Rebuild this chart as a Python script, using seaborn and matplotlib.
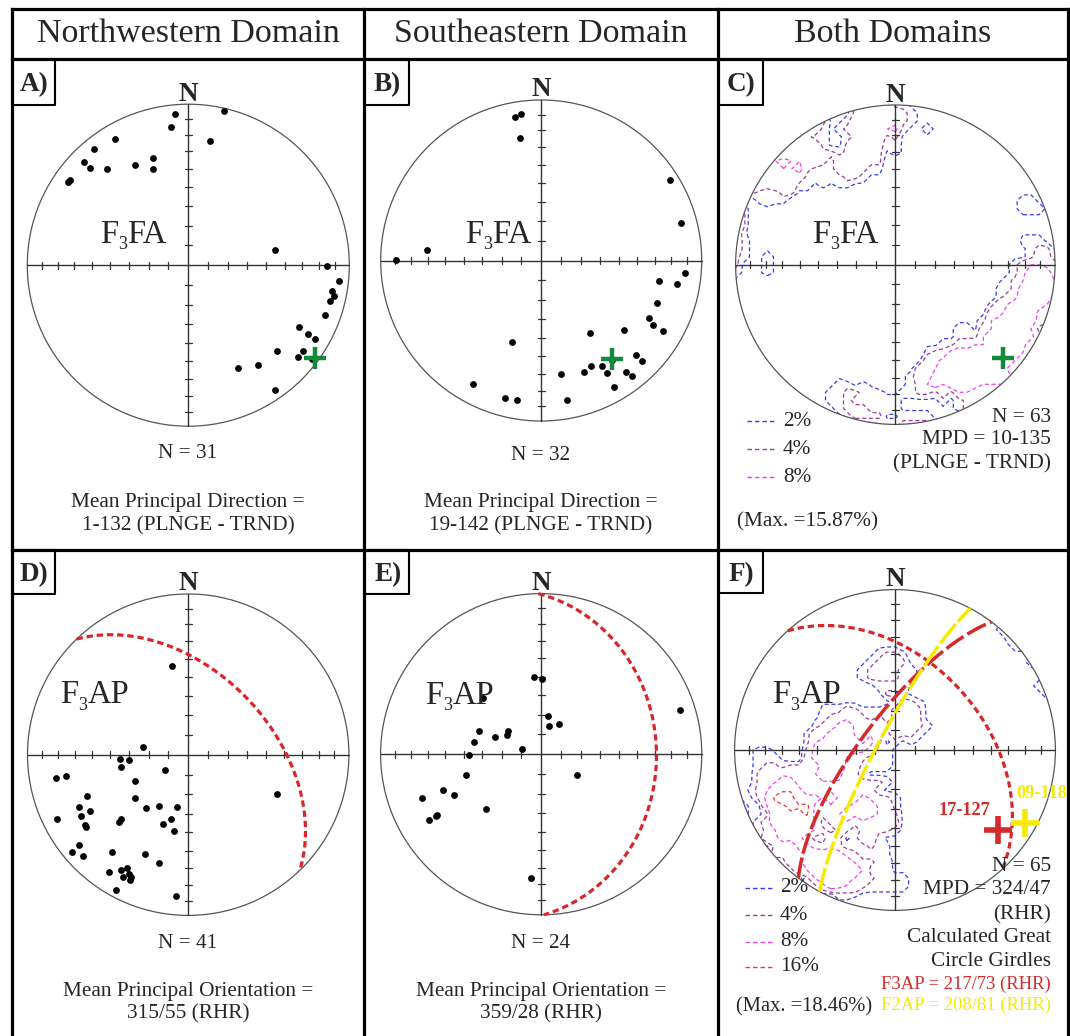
import numpy as np
import matplotlib
matplotlib.use("Agg")
import matplotlib.pyplot as plt
import seaborn as sns
from matplotlib.patches import Circle
from matplotlib.lines import Line2D

# ---------------- data (equal-area net coordinates, unit radius) ----------------
a_east = [-0.746, -0.734, -0.645, -0.587, -0.611, -0.456, -0.504, -0.334, -0.222, -0.222,
          -0.108, -0.085, 0.220, 0.135, 0.541, 0.860, 0.939, 0.893, 0.906, 0.881,
          0.852, 0.690, 0.746, 0.785, 0.551, 0.711, 0.680, 0.431, 0.307, 0.539, 0.767]
a_north = [0.518, 0.531, 0.642, 0.719, 0.604, 0.784, 0.595, 0.621, 0.668, 0.600,
           0.861, 0.940, 0.955, 0.769, 0.092, -0.002, -0.101, -0.161, -0.193, -0.221,
           -0.310, -0.383, -0.430, -0.456, -0.535, -0.535, -0.572, -0.621, -0.636, -0.773, -0.582]

b_east = [-0.161, -0.126, -0.132, 0.803, 0.869, -0.713, -0.907, 0.898, 0.736, 0.848,
          0.724, 0.670, 0.695, 0.761, 0.518, 0.302, -0.184, 0.589, 0.628, 0.308,
          0.265, 0.381, 0.408, 0.526, 0.566, 0.456, 0.126, 0.159, -0.427, -0.225,
          -0.148, 0.443]
b_north = [0.897, 0.915, 0.761, 0.501, 0.234, 0.065, 0.001, -0.078, -0.130, -0.148,
           -0.263, -0.358, -0.402, -0.437, -0.433, -0.449, -0.510, -0.589, -0.628, -0.657,
           -0.692, -0.657, -0.700, -0.696, -0.721, -0.787, -0.709, -0.867, -0.767, -0.859,
           -0.869, -0.617]

d_east = [-0.101, -0.279, -0.424, -0.368, -0.420, -0.146, -0.822, -0.760, -0.331, -0.628,
          -0.329, -0.677, -0.613, -0.669, -0.265, -0.184, -0.067, -0.818, -0.644, -0.636,
          -0.428, -0.107, -0.157, -0.086, -0.677, -0.725, -0.652, -0.474, -0.267, -0.179,
          -0.495, -0.418, -0.378, -0.404, -0.366, -0.364, -0.451, -0.076, 0.553, -0.420,
          -0.358]
d_north = [0.554, 0.050, -0.029, -0.033, -0.075, -0.095, -0.143, -0.133, -0.162, -0.255,
           -0.272, -0.328, -0.353, -0.382, -0.334, -0.317, -0.324, -0.398, -0.438, -0.448,
           -0.419, -0.400, -0.434, -0.477, -0.564, -0.608, -0.631, -0.608, -0.620, -0.672,
           -0.728, -0.720, -0.707, -0.759, -0.743, -0.780, -0.842, -0.878, -0.247, -0.402,
           -0.763]

e_east = [-0.045, 0.003, -0.364, 0.045, 0.051, 0.113, 0.864, -0.385, -0.206, -0.213,
          -0.287, -0.416, -0.117, -0.447, -0.466, 0.223, -0.611, -0.540, -0.740, -0.343,
          -0.655, -0.700, -0.063, -0.646]
e_north = [0.481, 0.471, 0.349, 0.239, 0.174, 0.191, 0.278, 0.147, 0.147, 0.120,
           0.104, 0.073, 0.031, -0.004, -0.129, -0.131, -0.224, -0.255, -0.270, -0.344,
           -0.384, -0.409, -0.770, -0.380]

# mean principal directions (net coordinates)
mean_a = (0.788, -0.578)
mean_b = (0.443, -0.614)
mean_c = (0.676, -0.587)
mean_f3 = (0.643, -0.498)
mean_f2 = (0.809, -0.452)

# great circles as (strike, dip) right-hand rule
girdle_d = (316, 48)
girdle_e = (359, 29)
girdle_f_mean = (318, 44)
girdle_f3ap = (217, 73)
girdle_f2ap = (208, 81)

tick_plunges = [10, 20, 30, 40, 50, 60, 70, 80]
levels_c = [2, 4, 8]
levels_f = [2, 4, 8, 16]
level_labels_c = ["2%", "4%", "8%"]
level_labels_f = ["2%", "4%", "8%", "16%"]
counting_area = 0.0225   # fraction of the hemisphere covered by the counting circle

headers = ["Northwestern Domain", "Southeastern Domain", "Both Domains"]

# ---------------- style ----------------
sns.set_theme(style="white")
plt.rcParams["font.family"] = ["Liberation Serif", "DejaVu Serif"]

W, H = 1070, 1036
fig = plt.figure(figsize=(W / 100, H / 100), dpi=100)
fig.patch.set_facecolor("white")


def fx(x):
    return x / W


def fy(y):
    return 1 - y / H


LEVEL_COLORS = ["#3a3af2", "#9a3a9a", "#f040f0", "#f03838"]
RED = "#d9262b"
YEL = "#f5ea00"
GREEN = "#118a3c"
DASH = (0, (3.2, 2.2))


def make_ax(cx, cy, R):
    ax = fig.add_axes([fx(cx - R), fy(cy + R), 2 * R / W, 2 * R / H])
    ax.set_xlim(-1, 1)
    ax.set_ylim(-1, 1)
    ax.axis("off")
    return ax


def draw_net(ax):
    ax.add_patch(Circle((0, 0), 1, fill=False, ec="#555555", lw=0.9, clip_on=False, zorder=2))
    ax.plot([-1, 1], [0, 0], color="#333333", lw=1.0, clip_on=False, zorder=2)
    ax.plot([0, 0], [-1, 1], color="#333333", lw=1.0, clip_on=False, zorder=2)
    t = 0.022
    for p in tick_plunges:
        r = np.sqrt(2) * np.sin(np.radians((90 - p) / 2))
        for s in (-1, 1):
            ax.plot([s * r, s * r], [-t, t], color="#333333", lw=0.9, zorder=2)
            ax.plot([-t, t], [s * r, s * r], color="#333333", lw=0.9, zorder=2)


def to_vec(e, n):
    e = np.asarray(e, float)
    n = np.asarray(n, float)
    rr = np.hypot(e, n)
    rc = np.clip(rr, 0, 1)
    th = 2 * np.arcsin(rc / np.sqrt(2))
    safe = np.where(rr == 0, 1, rr)
    return np.stack([np.sin(th) * e / safe, np.sin(th) * n / safe, -np.cos(th)], axis=-1)


def draw_density(ax, east, north, levels):
    # percentage of points falling in a counting circle centred on each grid node
    g = np.linspace(-1.05, 1.05, 43)
    GX, GY = np.meshgrid(g, g)
    gv = to_vec(GX, GY)
    dv = to_vec(east, north)
    c = np.abs(gv @ dv.T)
    pct = (c >= 1 - counting_area).sum(-1) / len(east) * 100.0
    cs = ax.contour(GX, GY, pct, levels=levels, colors=LEVEL_COLORS[:len(levels)],
                    linewidths=0.9, zorder=1)
    cs.set_linestyle(DASH)
    cs.set_clip_path(Circle((0, 0), 1, transform=ax.transData))


def girdle(ax, plane, **kw):
    strike, dip = plane
    phi = np.radians(np.linspace(0, 180, 361))
    d = np.radians(dip)
    plunge = np.arcsin(np.sin(d) * np.sin(phi))
    trend = np.radians(strike) + np.arctan2(np.sin(phi) * np.cos(d), np.cos(phi))
    r = np.sqrt(2) * np.sin((np.pi / 2 - plunge) / 2)
    ax.plot(r * np.sin(trend), r * np.cos(trend), clip_on=False, zorder=4, **kw)


def dots(ax, east, north):
    sns.scatterplot(x=east, y=north, ax=ax, color="black", s=24, linewidth=0,
                    zorder=5, legend=False)


def cross(ax, pt, color, ms, mew):
    ax.plot([pt[0]], [pt[1]], marker="+", ms=ms, mew=mew, color=color, zorder=6,
            clip_on=False, linestyle="none")


# ---------------- panels ----------------
geo = {
    "A": (188.3, 265.2, 161.0),
    "B": (541.2, 260.5, 160.5),
    "C": (895.3, 264.7, 159.7),
    "D": (188.2, 754.7, 160.7),
    "E": (541.2, 754.2, 160.6),
    "F": (895.0, 750.0, 160.4),
}
axes = {k: make_ax(*v) for k, v in geo.items()}
for ax in axes.values():
    draw_net(ax)

dots(axes["A"], a_east, a_north)
cross(axes["A"], mean_a, GREEN, 16, 3.2)

dots(axes["B"], b_east, b_north)
cross(axes["B"], mean_b, GREEN, 16, 3.2)

draw_density(axes["C"], a_east + b_east, a_north + b_north, levels_c)
cross(axes["C"], mean_c, GREEN, 16, 3.2)

dots(axes["D"], d_east, d_north)
girdle(axes["D"], girdle_d, color=RED, lw=2.3, linestyle=(0, (2.0, 1.2)))

dots(axes["E"], e_east, e_north)
girdle(axes["E"], girdle_e, color=RED, lw=2.3, linestyle=(0, (2.0, 1.2)))

draw_density(axes["F"], d_east + e_east, d_north + e_north, levels_f)
girdle(axes["F"], girdle_f_mean, color=RED, lw=2.3, linestyle=(0, (2.0, 1.2)))
girdle(axes["F"], girdle_f3ap, color="#d42a2a", lw=2.5, linestyle=(0, (6.0, 1.3)))
girdle(axes["F"], girdle_f2ap, color=YEL, lw=2.5, linestyle=(0, (7.0, 1.0)))
cross(axes["F"], mean_f3, "#d42a2a", 20, 4.0)
cross(axes["F"], mean_f2, YEL, 20, 4.0)

# ---------------- frame ----------------
def fline(xs, ys, lw=2.3):
    fig.add_artist(Line2D([fx(x) for x in xs], [fy(y) for y in ys],
                          transform=fig.transFigure, color="black", lw=lw,
                          solid_capstyle="projecting"))


fline([11.5, 1068.3], [8.6, 8.6])
fline([11.5, 1068.3], [59.3, 59.3])
fline([11.5, 1068.3], [549.8, 549.8])
for x in (11.5, 364.3, 717.8, 1068.3):
    fline([x, x], [8.6, 1040])

boxes = {"A": (11.5, 59.3, 55, 104.5), "B": (364.3, 59.3, 409, 105), "C": (717.8, 59.3, 762.5, 105),
         "D": (11.5, 549.8, 55, 594), "E": (364.3, 549.8, 409, 594), "F": (717.8, 549.8, 762.7, 593)}
for k, (x0, y0, x1, y1) in boxes.items():
    fline([x0, x1, x1, x0], [y0, y0, y1, y1], lw=1.5)
    fig.text(fx((x0 + x1) / 2 + 1), fy(y0 + 31.5), k + ")", ha="center", va="baseline",
             fontsize=19.5, fontweight="bold")

for hx, htxt in zip([188, 541, 893], headers):
    fig.text(fx(hx), fy(34), htxt, ha="center", va="center", fontsize=24.5)

for k, (cx, cy, R) in geo.items():
    fig.text(fx(cx), fy(cy - R - 3.5), "N", ha="center", va="baseline",
             fontsize=19.5, fontweight="bold")


def fold_label(x, y, tail):
    big = 23.5
    fig.text(fx(x), fy(y), "F", fontsize=big, va="baseline")
    fig.text(fx(x + 18.0), fy(y + 6.5), "3", fontsize=13, va="baseline")
    fig.text(fx(x + 27.5), fy(y), tail, fontsize=big, va="baseline")


fold_label(100, 242.8, "FA")
fold_label(465, 242.7, "FA")
fold_label(812, 242.7, "FA")
fold_label(60, 703.3, "AP")
fold_label(425, 704, "AP")
fold_label(772, 703.3, "AP")

fs = 15.3
fig.text(fx(188), fy(454), "N = 31", ha="center", va="center", fontsize=fs)
fig.text(fx(188), fy(502.7), "Mean Principal Direction =", ha="center", va="center", fontsize=fs)
fig.text(fx(188), fy(525.7), "1-132 (PLNGE - TRND)", ha="center", va="center", fontsize=fs)
fig.text(fx(541), fy(455), "N = 32", ha="center", va="center", fontsize=fs)
fig.text(fx(541), fy(502.7), "Mean Principal Direction =", ha="center", va="center", fontsize=fs)
fig.text(fx(541), fy(526), "19-142 (PLNGE - TRND)", ha="center", va="center", fontsize=fs)

fig.text(fx(188), fy(943), "N = 41", ha="center", va="center", fontsize=fs)
fig.text(fx(188), fy(991.7), "Mean Principal Orientation =", ha="center", va="center", fontsize=fs)
fig.text(fx(188), fy(1014), "315/55 (RHR)", ha="center", va="center", fontsize=fs)
fig.text(fx(541), fy(943), "N = 24", ha="center", va="center", fontsize=fs)
fig.text(fx(541), fy(991.7), "Mean Principal Orientation =", ha="center", va="center", fontsize=fs)
fig.text(fx(541), fy(1014), "359/28 (RHR)", ha="center", va="center", fontsize=fs)

# C annotations
for txt, y in zip(["N = 63", "MPD = 10-135", "(PLNGE - TRND)"], [417, 440, 464]):
    fig.text(fx(1051), fy(y), txt, ha="right", va="center", fontsize=fs)
for lab, col, y in zip(level_labels_c, LEVEL_COLORS, [421, 449, 477]):
    fig.add_artist(Line2D([fx(747), fx(777)], [fy(y), fy(y)], transform=fig.transFigure,
                          color=col, lw=1.0, linestyle=DASH))
    fig.text(fx(783), fy(y), lab, ha="left", va="center", fontsize=fs)
fig.text(fx(737), fy(522), "(Max. =15.87%)", ha="left", va="center", fontsize=fs)

# F annotations
ftxt = ["N = 65", "MPD = 324/47", "(RHR)", "Calculated Great", "Circle Girdles"]
for txt, y in zip(ftxt, [866.7, 890, 915, 938, 961.7]):
    fig.text(fx(1051), fy(y), txt, ha="right", va="center", fontsize=fs, zorder=10)
fig.text(fx(1051), fy(984), "F3AP = 217/73 (RHR)", ha="right", va="center", fontsize=13.4,
         color="#d42a2a")
fig.text(fx(1051), fy(1005.5), "F2AP = 208/81 (RHR)", ha="right", va="center", fontsize=13.4,
         color=YEL)
for lab, col, y in zip(level_labels_f, LEVEL_COLORS, [888, 915, 941.7, 966.7]):
    fig.add_artist(Line2D([fx(745), fx(775)], [fy(y), fy(y)], transform=fig.transFigure,
                          color=col, lw=1.0, linestyle=DASH))
    fig.text(fx(780), fy(y), lab, ha="left", va="center", fontsize=fs)
fig.text(fx(735.7), fy(1006.7), "(Max. =18.46%)", ha="left", va="center", fontsize=14.8)
fig.text(fx(965), fy(810.7), "17-127", ha="center", va="center", fontsize=13.2,
         fontweight="bold", color="#d42a2a")
fig.text(fx(1016.7), fy(793.3), "09-118", ha="left", va="center", fontsize=13.2,
         fontweight="bold", color=YEL)

fig.savefig("out.png", dpi=100, facecolor="white")
